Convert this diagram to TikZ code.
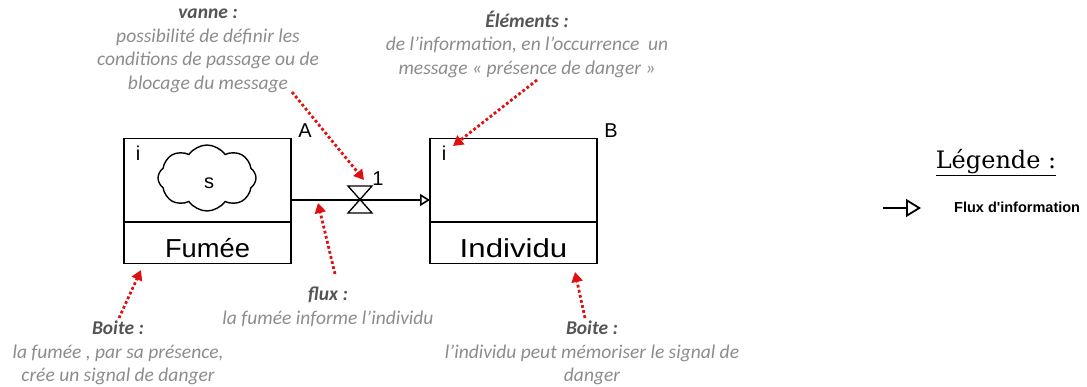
\documentclass[tikz,border=0pt]{standalone}
\usepackage{fontspec}
\newfontfamily\annotfont{Carlito}
\newfontfamily\arialfont{Liberation Sans}
\newfontfamily\legfont{DejaVu Serif}
\usetikzlibrary{arrows.meta,shapes.symbols}
\definecolor{annotgray}{HTML}{8C8C8C}
\definecolor{headgray}{HTML}{555555}
\definecolor{redarrow}{HTML}{E01010}
\tikzset{
  boxline/.style={line width=1.6pt, draw=black},
  annot/.style={align=center, inner sep=0pt, text=annotgray,
    font=\annotfont\itshape\fontsize{19.5}{23.5}\selectfont},
  pointer/.style={draw=redarrow, line width=2.8pt, dash pattern=on 2.8pt off 2.4pt,
    -{Triangle[length=10pt,width=11pt,fill=redarrow]}},
  boxlabel/.style={inner sep=0pt, font=\arialfont\fontsize{20}{20}\selectfont},
  boxname/.style={inner sep=0pt, font=\arialfont\fontsize{26}{26}\selectfont},
  flow/.style={draw=black, line width=2pt, -{Triangle[open,length=10pt,width=12pt,line width=1.6pt]}},
}
\newcommand{\hd}[1]{{\bfseries\color{headgray}#1}}
\begin{document}
\begin{tikzpicture}[x=1pt,y=-1pt]
\useasboundingbox (0,0) rectangle (1087,387);
% Box A
\node[boxline, draw, minimum width=167pt, minimum height=125pt, inner sep=0pt] (A) at (207.5,201) {};
\draw[boxline] (124,222) -- (291,222);
\node[boxname] (fumee) at (207.5,248) {\scalebox{1.05}[1]{Fumée}};
\node[boxlabel] (iA) at (138,153) {i};
\node[boxlabel] (lA) at (305,131) {A};
\node[cloud, draw, line width=1.4pt, cloud puffs=8, cloud puff arc=110, aspect=1.5,
  minimum width=98pt, minimum height=66pt] (cloud) at (207,178) {};
\node[boxlabel] (s) at (209,183) {s};
% Box B
\node[boxline, draw, minimum width=167pt, minimum height=125pt, inner sep=0pt] (B) at (513.5,201) {};
\draw[boxline] (430,222) -- (597,222);
\node[boxname] (indiv) at (513.5,248) {\scalebox{1.2}[1]{Individu}};
\node[boxlabel] (iB) at (444,153) {i};
\node[boxlabel] (lB) at (611,131) {B};
% flow
\coordinate (outA) at (291,200);
\coordinate (inB) at (430,200);
\draw[flow] (outA) -- (inB);
% valve
\coordinate (valve) at (360,200);
\draw[line width=1.3pt, fill=white] (348,186) -- (372,186) -- (348,213) -- (372,213) -- cycle;
\node[boxlabel] (one) at (378,179) {1};
% annotations
\node[annot] (vanne) at (208,51) {\hd{vanne :}\\possibilité de définir les\\conditions de passage ou de\\blocage du message};
\node[annot] (elem) at (527,44) {\hd{Éléments :}\\de l’information, en l’occurrence\ \ un\\message « présence de danger »};
\node[annot] (flux) at (328,307) {\hd{flux :}\\la fumée informe l’individu};
\node[annot] (boiteA) at (118,353) {\hd{Boite :}\\la fumée , par sa présence,\\crée un signal de danger};
\node[annot] (boiteB) at (592,353) {\hd{Boite :}\\l’individu peut mémoriser le signal de\\danger};
% pointers
\coordinate (p1s) at (292,92);
\coordinate (p1e) at (364,180);
\draw[pointer] (p1s) -- (p1e);
\coordinate (p2s) at (537,80);
\coordinate (p2e) at (453,146);
\draw[pointer] (p2s) -- (p2e);
\coordinate (p3s) at (335,274);
\coordinate (p3e) at (318,203);
\draw[pointer] (p3s) -- (p3e);
\coordinate (p4s) at (119,318);
\coordinate (p4e) at (141,270);
\draw[pointer] (p4s) -- (p4e);
\coordinate (p5s) at (585,318);
\coordinate (p5e) at (575,272);
\draw[pointer] (p5s) -- (p5e);
% legend
\node[inner sep=0pt, font=\legfont\fontsize{24}{24}\selectfont] (leg) at (996,163) {\underline{Légende :}};
\coordinate (l1) at (883,208);
\coordinate (l2) at (921,208);
\draw[draw=black, line width=2pt, -{Triangle[open,length=15pt,width=18pt,line width=1.8pt]}] (l1) -- (l2);
\node[anchor=west, inner sep=0pt, font=\arialfont\bfseries\fontsize{14.5}{14.5}\selectfont] (legtxt) at (954,207) {Flux d'information};
\end{tikzpicture}
\end{document}
